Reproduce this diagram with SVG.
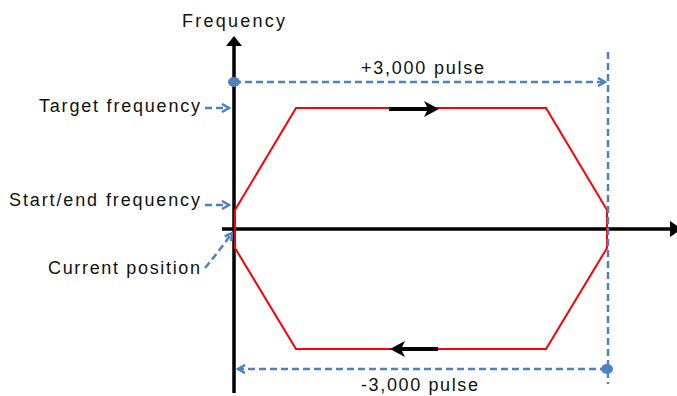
<svg xmlns="http://www.w3.org/2000/svg" width="677" height="396" viewBox="0 0 677 396">
<style>
text{font-family:"Liberation Sans",Arial,sans-serif;font-size:18px;fill:#111}
.blue{stroke:#4F81BD;stroke-width:2.5;stroke-dasharray:7 4;fill:none}
.axis{stroke:#000;stroke-width:3.5;fill:none}
.red{stroke:#FF0000;stroke-width:2;fill:none}
.dir{stroke:#000;stroke-width:4;fill:none}
</style>
<defs>
<marker id="open" markerWidth="10" markerHeight="10" refX="8" refY="5" orient="auto" markerUnits="userSpaceOnUse">
<path d="M1,1 L8,5 L1,9" fill="none" stroke="#4F81BD" stroke-width="2.5"/>
</marker>
</defs>
<rect width="677" height="396" fill="#fff"/>
<g id="axes">
<line class="axis" x1="234" y1="393" x2="234" y2="44"/>
<polygon points="226,46 234,36 242,46" fill="#000"/>
<line class="axis" x1="222" y1="229" x2="672" y2="229"/>
<polygon points="670,221 682,229 670,237" fill="#000"/>
</g>
<g id="profile">
<polyline class="red" points="235,210 296,108 546,108 607,210 607,248 546,349 296,349 235,248 235,210"/>
</g>
<g id="connectors">
<line class="blue" x1="234" y1="82" x2="605" y2="82" marker-end="url(#open)"/>
<ellipse cx="234" cy="82" rx="6" ry="5" fill="#4F81BD"/>
<line class="blue" x1="608" y1="52" x2="608" y2="384"/>
<line class="blue" x1="607" y1="369" x2="238" y2="369" marker-end="url(#open)"/>
<ellipse cx="607" cy="369" rx="6" ry="5" fill="#4F81BD"/>
<line class="blue" x1="205" y1="108" x2="229" y2="108" marker-end="url(#open)"/>
<line class="blue" x1="205" y1="205" x2="229" y2="205" marker-end="url(#open)"/>
<path class="blue" d="M205,268 Q220,250 232,233" marker-end="url(#open)"/>
<g id="dir-top">
<line class="dir" x1="389" y1="109" x2="432" y2="109"/>
<path d="M424,101 L439,109 L424,117 L428,109 Z" fill="#000"/>
</g>
<g id="dir-bottom">
<line class="dir" x1="438" y1="349" x2="396" y2="349"/>
<path d="M405,341 L390,349 L405,357 L401,349 Z" fill="#000"/>
</g>
</g>
<g id="labels">
<text x="182" y="27" textLength="103" lengthAdjust="spacing">Frequency</text>
<text x="39" y="112" textLength="161" lengthAdjust="spacing">Target frequency</text>
<text x="9" y="206" textLength="191" lengthAdjust="spacing">Start/end frequency</text>
<text x="48" y="274" textLength="152" lengthAdjust="spacing">Current position</text>
<text x="361" y="74" textLength="123" lengthAdjust="spacing">+3,000 pulse</text>
<text x="361" y="391" textLength="117" lengthAdjust="spacing">-3,000 pulse</text>
</g>
</svg>
